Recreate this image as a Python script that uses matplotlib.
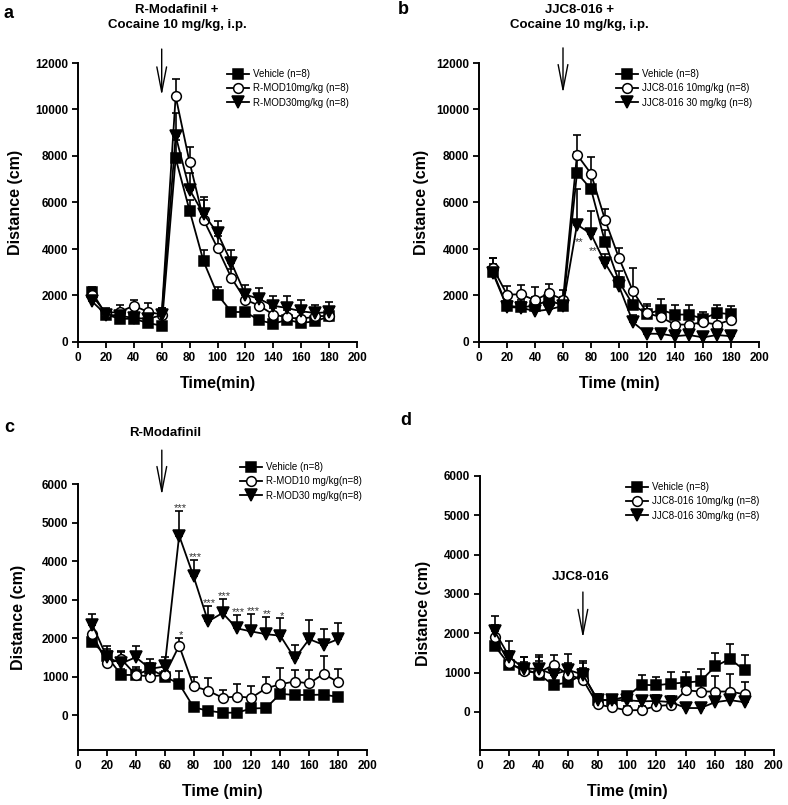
import numpy as np
import matplotlib.pyplot as plt

plt.rcParams['font.family'] = ['Liberation Sans', 'DejaVu Sans']

time = [10, 20, 30, 40, 50, 60, 70, 80, 90, 100, 110, 120, 130, 140, 150, 160, 170, 180]

# panel a: R-Modafinil + cocaine
a_veh = [2150, 1180, 1000, 1000, 820, 700, 7900, 5650, 3470, 2040, 1290, 1290, 930, 790, 950, 820, 890, 1100]
a_veh_err = [200, 150, 150, 150, 150, 150, 800, 450, 470, 330, 150, 150, 120, 120, 150, 120, 120, 150]
a_r10 = [2000, 1250, 1300, 1560, 1300, 1180, 10570, 7730, 5260, 4040, 2750, 1820, 1560, 1180, 1060, 990, 1100, 1130]
a_r10_err = [200, 200, 300, 260, 380, 280, 750, 650, 850, 500, 400, 350, 300, 300, 300, 300, 300, 300]
a_r30 = [1750, 1180, 1130, 1030, 1000, 1150, 8870, 6550, 5500, 4690, 3400, 2040, 1850, 1560, 1460, 1320, 1250, 1280]
a_r30_err = [150, 150, 250, 250, 300, 300, 1000, 700, 750, 500, 570, 400, 470, 400, 500, 500, 350, 420]

# panel b: JJC8-016 + cocaine
b_veh = [3000, 1560, 1500, 1550, 1820, 1550, 7270, 6580, 4300, 2600, 1600, 1200, 1390, 1180, 1180, 1000, 1250, 1200]
b_veh_err = [600, 300, 300, 400, 400, 400, 900, 600, 500, 450, 450, 450, 450, 400, 400, 300, 350, 350]
b_r10 = [3180, 2040, 2050, 1800, 2100, 1820, 8060, 7240, 5260, 3610, 2180, 1250, 1060, 750, 750, 850, 750, 960]
b_r10_err = [450, 350, 400, 550, 400, 400, 850, 700, 450, 450, 1000, 300, 300, 300, 300, 250, 300, 300]
b_r30 = [2950, 1500, 1480, 1320, 1400, 1550, 5050, 4650, 3400, 2400, 850, 360, 350, 250, 300, 200, 300, 250]
b_r30_err = [400, 250, 250, 250, 250, 250, 1550, 1000, 400, 400, 300, 150, 100, 100, 100, 100, 100, 100]

# panel c: R-Modafinil alone
c_veh = [1900, 1520, 1040, 1040, 1190, 1000, 810, 200, 110, 60, 60, 170, 180, 550, 520, 520, 530, 470]
c_veh_err = [200, 200, 150, 150, 150, 150, 320, 80, 60, 50, 50, 60, 60, 100, 100, 100, 100, 80]
c_r10 = [2100, 1340, 1450, 1040, 1000, 1040, 1800, 750, 630, 450, 480, 450, 690, 800, 870, 820, 1070, 850]
c_r10_err = [250, 200, 200, 200, 200, 200, 200, 230, 330, 200, 330, 300, 300, 430, 300, 350, 470, 340]
c_r30 = [2340, 1500, 1340, 1500, 1200, 1260, 4660, 3600, 2430, 2650, 2250, 2170, 2100, 2060, 1470, 1970, 1820, 1970]
c_r30_err = [280, 280, 300, 280, 250, 250, 650, 430, 400, 370, 350, 450, 450, 450, 350, 500, 420, 420]

# panel d: JJC8-016 alone
d_veh = [1680, 1200, 1100, 950, 690, 750, 960, 310, 300, 400, 690, 680, 720, 750, 780, 1160, 1350, 1060]
d_veh_err = [250, 250, 300, 500, 250, 300, 330, 140, 100, 100, 260, 220, 300, 260, 300, 350, 380, 380]
d_r10 = [1900, 1250, 1030, 1000, 1200, 950, 820, 190, 120, 40, 50, 150, 180, 550, 520, 520, 520, 450]
d_r10_err = [300, 300, 250, 300, 250, 300, 300, 100, 100, 100, 100, 100, 100, 300, 300, 400, 450, 300]
d_r30 = [2050, 1400, 1100, 1100, 950, 1070, 950, 300, 300, 300, 270, 280, 250, 100, 100, 250, 300, 250]
d_r30_err = [400, 400, 300, 300, 300, 400, 300, 120, 100, 100, 140, 150, 150, 100, 100, 100, 100, 100]

# significance marks
c_star_t = [70, 80, 90, 100, 110, 120, 130, 140]
c_star_txt = ['***', '***', '***', '***', '***', '***', '**', '*']
b_star_t = [70, 80]
b_star_txt = ['**', '**']

fig = plt.figure(figsize=(7.88, 8.05), dpi=100)


def px(x, y):
    return x / 788, 1 - y / 805


def panel(rect, series, labels, ylim, ystep, ylabel_pad, xlabel):
    ax = fig.add_axes(rect)
    markers = [('s', 'black'), ('o', 'white'), ('v', 'black')]
    handles = []
    for (y, err), (m, fc), lab in zip(series, markers, labels):
        ax.errorbar(time, y, yerr=[np.zeros(len(err)), err], fmt='none',
                    ecolor='black', elinewidth=1.2, capsize=3, capthick=1.2, zorder=2)
        h, = ax.plot(time, y, marker=m, color='black', mfc=fc, mec='black',
                     ms=7 if m != 'v' else 8, lw=1.3, mew=1.1, label=lab, zorder=3)
        handles.append(h)
    ax.set_xlim(0, 200)
    ax.set_ylim(*ylim)
    ax.set_xticks(range(0, 201, 20))
    ax.set_yticks(np.arange(0, ylim[1] + 1, ystep))
    for s in ['top', 'right']:
        ax.spines[s].set_visible(False)
    for s in ['left', 'bottom']:
        ax.spines[s].set_linewidth(1.4)
    ax.tick_params(direction='out', length=4, width=1.3, labelsize=8.5, pad=3)
    for t in ax.get_xticklabels() + ax.get_yticklabels():
        t.set_fontweight('bold')
    ax.set_xlabel(xlabel, fontsize=11.5, fontweight='bold', labelpad=9)
    ax.set_ylabel('Distance (cm)', fontsize=11.5, fontweight='bold', labelpad=ylabel_pad)
    return ax, handles


def add_legend(ax, handles, x, y):
    ax.legend(handles=handles, loc='upper left', bbox_to_anchor=px(x, y),
              bbox_transform=fig.transFigure, frameon=False, fontsize=7,
              handlelength=2.3, handletextpad=0.4, labelspacing=0.45,
              borderpad=0, borderaxespad=0)


def arrow(ax, x, y0, y1):
    ax.annotate('', xy=(x, y1), xytext=(x, y0), annotation_clip=False,
                arrowprops=dict(arrowstyle='->,head_length=1.8,head_width=0.35',
                                color='black', lw=1.0, shrinkA=0, shrinkB=0))


title_font = dict(fontsize=9.5, fontweight='bold', ha='center', va='center',
                  clip_on=False, family=['Liberation Sans Narrow', 'Liberation Sans'])
star_font = dict(fontsize=8, ha='center', color='#333333')

# a
ax, hs = panel([78 / 788, 1 - 342 / 805, 279 / 788, 279 / 805],
               [(a_veh, a_veh_err), (a_r10, a_r10_err), (a_r30, a_r30_err)],
               ['Vehicle (n=8)', 'R-MOD10mg/kg (n=8)', 'R-MOD30mg/kg (n=8)'],
               (0, 12000), 2000, 9, 'Time(min)')
add_legend(ax, hs, 227, 69)
arrow(ax, 60, 12600, 10600)
ax.text(71, 14300, 'R-Modafinil +', **title_font)
ax.text(71, 13650, 'Cocaine 10 mg/kg, i.p.', **title_font)

# b
ax, hs = panel([479 / 788, 1 - 342 / 805, 280 / 788, 279 / 805],
               [(b_veh, b_veh_err), (b_r10, b_r10_err), (b_r30, b_r30_err)],
               ['Vehicle (n=8)', 'JJC8-016 10mg/kg (n=8)', 'JJC8-016 30 mg/kg (n=8)'],
               (0, 12000), 2000, 5, 'Time (min)')
add_legend(ax, hs, 616, 69)
arrow(ax, 60, 12650, 10700)
ax.text(71.5, 14300, 'JJC8-016 +', **title_font)
ax.text(71.5, 13650, 'Cocaine 10 mg/kg, i.p.', **title_font)
for t, s in zip(b_star_t, b_star_txt):
    i = time.index(t)
    ax.text(t + 1.5, b_r30[i] - 750, s, va='center', **star_font)

# c
ax, hs = panel([78 / 788, 1 - 750 / 805, 289 / 788, 266 / 805],
               [(c_veh, c_veh_err), (c_r10, c_r10_err), (c_r30, c_r30_err)],
               ['Vehicle (n=8)', 'R-MOD10 mg/kg(n=8)', 'R-MOD30 mg/kg(n=8)'],
               (-909, 6000), 1000, 11, 'Time (min)')
add_legend(ax, hs, 240, 462)
arrow(ax, 58, 6880, 5710)
ax.text(60.5, 7330, 'R-Modafinil', **title_font)
for t, s in zip(c_star_t, c_star_txt):
    i = time.index(t)
    ax.text(t + 1, c_r30[i] + c_r30_err[i] - 60, s, va='bottom', **star_font)
ax.text(71, c_r10[6] + c_r10_err[6] - 60, '*', va='bottom', **star_font)

# d
ax, hs = panel([480 / 788, 1 - 750 / 805, 294 / 788, 274 / 805],
               [(d_veh, d_veh_err), (d_r10, d_r10_err), (d_r30, d_r30_err)],
               ['Vehicle (n=8)', 'JJC8-016 10mg/kg (n=8)', 'JJC8-016 30mg/kg (n=8)'],
               (-967, 6000), 1000, 9, 'Time (min)')
add_legend(ax, hs, 626, 482)
arrow(ax, 70, 3050, 1880)
ax.text(68.5, 3430, 'JJC8-016', **title_font)

for letter, x, y in [('a', 4, 13), ('b', 398, 10), ('c', 4, 428), ('d', 400, 420)]:
    fig.text(*px(x, y), letter, fontsize=13, fontweight='bold', ha='left', va='center')

fig.savefig('out.png', dpi=100)
